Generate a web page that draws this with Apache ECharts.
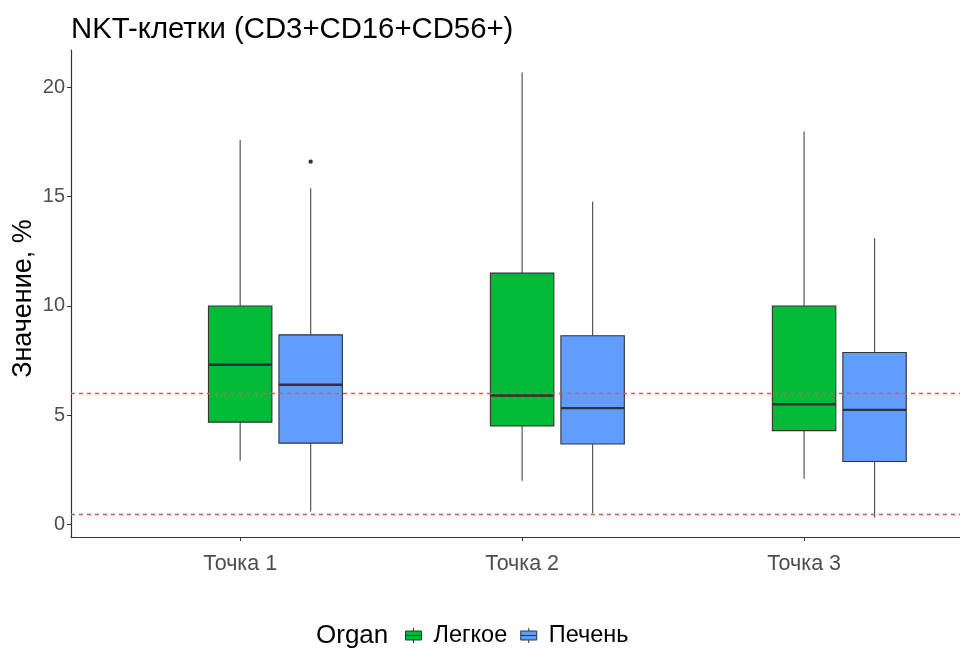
<!DOCTYPE html>
<html>
<head>
<meta charset="utf-8">
<script src="https://cdn.jsdelivr.net/npm/echarts@6/dist/echarts.min.js"></script>
<style>html,body{margin:0;padding:0;background:#fff}#c{width:960px;height:648px}</style>
</head>
<body>
<div id="c"></div>
<script>
const categories = ['Точка 1', 'Точка 2', 'Точка 3'];
// [min, Q1, median, Q3, max] per category
const lungStats = [
  [2.92, 4.69, 7.31, 10.0, 17.59],
  [2.01, 4.52, 5.91, 11.5, 20.67],
  [2.10, 4.30, 5.51, 10.0, 17.97]
];
const liverStats = [
  [0.61, 3.73, 6.40, 8.68, 15.38],
  [0.53, 3.69, 5.33, 8.64, 14.77],
  [0.33, 2.89, 5.25, 7.87, 13.10]
];
// [category index, value]
const liverOutliers = [[0, 16.6]];
const thresholds = [6, 0.5];
const yTicks = [0, 5, 10, 15, 20];
const xTicks = [1, 2, 3];
const seriesNames = ['Легкое', 'Печень'];
const colors = ['#00BA38', '#619CFF'];

const FONT = 'Liberation Sans, Arial, sans-serif';
const BOX_W = 0.225;
const offsets = [0, 0.25];

function toRows(stats) {
  return stats.map((s, i) => [i + 1].concat(s));
}

function makeRender(offset, color) {
  return function (params, api) {
    const x = api.value(0) + offset;
    const pMin = api.coord([x, api.value(1)]);
    const pQ1 = api.coord([x, api.value(2)]);
    const pMed = api.coord([x, api.value(3)]);
    const pQ3 = api.coord([x, api.value(4)]);
    const pMax = api.coord([x, api.value(5)]);
    const w = api.size([BOX_W, 0])[0];
    const cx = pMed[0];
    return {
      type: 'group',
      children: [
        { type: 'line', shape: { x1: cx, y1: pQ3[1], x2: cx, y2: pMax[1] }, style: { stroke: '#555', lineWidth: 1.2 } },
        { type: 'line', shape: { x1: cx, y1: pMin[1], x2: cx, y2: pQ1[1] }, style: { stroke: '#555', lineWidth: 1.2 } },
        { type: 'rect', shape: { x: cx - w / 2, y: pQ3[1], width: w, height: pQ1[1] - pQ3[1] }, style: { fill: color, stroke: '#333', lineWidth: 1.1 } },
        { type: 'line', shape: { x1: cx - w / 2, y1: pMed[1], x2: cx + w / 2, y2: pMed[1] }, style: { stroke: '#333', lineWidth: 2.4 } }
      ]
    };
  };
}

const legendIcon = 'path://M0,3 H16 V7.5 H0 Z M0,7.5 H16 V12 H0 Z M8,0 V3 M8,12 V15';

const chart = echarts.init(document.getElementById('c'), null, { renderer: 'canvas' });
chart.setOption({
  animation: false,
  backgroundColor: '#fff',
  title: {
    text: 'NKT-клетки (CD3+CD16+CD56+)',
    left: 66, top: 10,
    textStyle: { fontFamily: FONT, fontSize: 29.3, fontWeight: 'normal', color: '#000' }
  },
  grid: { left: 71, top: 50, right: 0, bottom: 111, containLabel: false, outerBoundsMode: 'none' },
  legend: {
    left: 405, top: 623.5, padding: 0,
    itemWidth: 16, itemHeight: 15, itemGap: 13,
    icon: legendIcon,
    data: seriesNames.map((n, i) => ({ name: n, itemStyle: { color: colors[i], borderColor: '#333', borderWidth: 1 } })),
    textStyle: { fontFamily: FONT, fontSize: 23.5, color: '#000', padding: [0, 0, 0, 7] }
  },
  graphic: [{
    type: 'text', left: 316, top: 623,
    style: { text: 'Organ', fontFamily: FONT, fontSize: 26, fill: '#000' }
  }],
  xAxis: {
    type: 'value', min: 0.4, max: 3.553,
    axisLine: { show: true, onZero: false, lineStyle: { color: '#333', width: 1.2 } },
    axisTick: { show: true, customValues: xTicks, length: 4, lineStyle: { color: '#333' } },
    axisLabel: { customValues: xTicks, formatter: v => categories[Math.round(v) - 1] || '', fontFamily: FONT, fontSize: 21.5, color: '#4d4d4d', margin: 16 },
    splitLine: { show: false }
  },
  yAxis: {
    type: 'value', min: -0.56, max: 21.7,
    name: 'Значение, %', nameLocation: 'middle', nameGap: 34, nameRotate: 90, nameMoveOverlap: false,
    nameTextStyle: { fontFamily: FONT, fontSize: 27, color: '#000', padding: [0, 10, 0, 0] },
    axisLine: { show: true, onZero: false, lineStyle: { color: '#333', width: 1.2 } },
    axisTick: { show: true, customValues: yTicks, length: 4, lineStyle: { color: '#333' } },
    axisLabel: { customValues: yTicks, fontFamily: FONT, fontSize: 20, color: '#4d4d4d', margin: 6 },
    splitLine: { show: false }
  },
  series: [
    {
      name: seriesNames[0], type: 'custom', renderItem: makeRender(offsets[0], colors[0]),
      itemStyle: { color: colors[0] },
      encode: { x: 0, y: [1, 2, 3, 4, 5] },
      data: toRows(lungStats),
      z: 3
    },
    {
      name: seriesNames[1], type: 'custom', renderItem: makeRender(offsets[1], colors[1]),
      itemStyle: { color: colors[1] },
      encode: { x: 0, y: [1, 2, 3, 4, 5] },
      data: toRows(liverStats),
      z: 3
    },
    {
      name: 'outliers', type: 'custom',
      renderItem: function (params, api) {
        const p = api.coord([api.value(0) + 1 + offsets[1], api.value(1)]);
        return { type: 'circle', shape: { cx: p[0], cy: p[1], r: 2.2 }, style: { fill: '#333' } };
      },
      encode: { x: 0, y: 1 },
      data: liverOutliers,
      z: 4
    },
    {
      name: 'thresholds', type: 'custom',
      renderItem: function (params, api) {
        const xr = params.coordSys;
        const p = api.coord([1, api.value(0)]);
        const y = Math.round(p[1]) + 0.5;
        return {
          type: 'line',
          shape: { x1: xr.x, y1: y, x2: xr.x + xr.width, y2: y },
          style: { stroke: '#e05555', lineWidth: 1.3, lineDash: [4, 4] }
        };
      },
      encode: { y: 0 },
      data: thresholds.map(t => [t]),
      z: 10
    }
  ]
});
</script>
</body>
</html>
